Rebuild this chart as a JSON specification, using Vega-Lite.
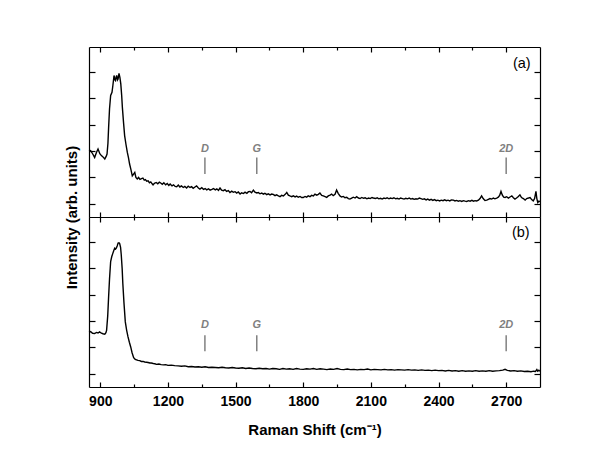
{
"$schema": "https://vega.github.io/schema/vega-lite/v6.json",
"padding": {"left": 64, "top": 46, "right": 5, "bottom": 5},
"config": {"view": {"stroke": null}, "font": "Liberation Sans", "axis": {"grid": false, "domainColor": "black", "domainWidth": 1.2, "tickColor": "black", "tickWidth": 1.2}},
"spacing": 0,
"bounds": "flush",
"datasets": {
"a": [
{"x":850,"y":3.0},{"x":857,"y":3.02},{"x":866,"y":2.9},{"x":875,"y":2.76},{"x":883,"y":2.95},{"x":890,"y":3.08},{"x":898,"y":2.9},{"x":905,"y":2.83},{"x":912,"y":2.78},{"x":920,"y":2.7},{"x":926,"y":2.8},{"x":930,"y":2.89},{"x":934,"y":3.3},{"x":937,"y":3.9},{"x":941,"y":4.6},{"x":946,"y":5.11},{"x":952,"y":5.23},{"x":956,"y":5.5},{"x":961,"y":5.87},{"x":964,"y":5.72},{"x":967,"y":5.68},{"x":970,"y":5.8},{"x":973,"y":5.87},{"x":976,"y":5.7},{"x":979,"y":5.74},{"x":983,"y":5.95},{"x":987,"y":5.8},{"x":991,"y":5.55},{"x":995,"y":5.1},{"x":998,"y":4.66},{"x":1003,"y":4.1},{"x":1008,"y":3.59},{"x":1014,"y":3.25},{"x":1020,"y":2.95},{"x":1025,"y":2.75},{"x":1030,"y":2.51},{"x":1036,"y":2.3},{"x":1042,"y":2.06},{"x":1047,"y":2.12},{"x":1053,"y":2.19},{"x":1058,"y":2.0},{"x":1064,"y":1.94},{"x":1070,"y":2.0},{"x":1076,"y":1.93},{"x":1083,"y":1.96},{"x":1089,"y":1.98},{"x":1095,"y":1.9},{"x":1100,"y":1.92},{"x":1106,"y":1.86},{"x":1112,"y":1.87},{"x":1118,"y":1.8},{"x":1124,"y":1.83},{"x":1130,"y":1.76},{"x":1134,"y":1.72},{"x":1140,"y":1.78},{"x":1148,"y":1.81},{"x":1155,"y":1.76},{"x":1162,"y":1.82},{"x":1168,"y":1.79},{"x":1175,"y":1.74},{"x":1182,"y":1.8},{"x":1190,"y":1.72},{"x":1197,"y":1.77},{"x":1204,"y":1.7},{"x":1210,"y":1.75},{"x":1218,"y":1.68},{"x":1225,"y":1.72},{"x":1232,"y":1.66},{"x":1239,"y":1.65},{"x":1246,"y":1.71},{"x":1253,"y":1.64},{"x":1260,"y":1.68},{"x":1268,"y":1.62},{"x":1275,"y":1.66},{"x":1283,"y":1.6},{"x":1290,"y":1.67},{"x":1298,"y":1.62},{"x":1305,"y":1.65},{"x":1312,"y":1.59},{"x":1320,"y":1.64},{"x":1327,"y":1.68},{"x":1335,"y":1.6},{"x":1342,"y":1.56},{"x":1350,"y":1.61},{"x":1358,"y":1.55},{"x":1365,"y":1.58},{"x":1372,"y":1.53},{"x":1380,"y":1.57},{"x":1387,"y":1.52},{"x":1395,"y":1.55},{"x":1402,"y":1.58},{"x":1410,"y":1.53},{"x":1417,"y":1.57},{"x":1424,"y":1.51},{"x":1431,"y":1.6},{"x":1438,"y":1.52},{"x":1446,"y":1.5},{"x":1453,"y":1.54},{"x":1460,"y":1.47},{"x":1468,"y":1.5},{"x":1475,"y":1.43},{"x":1483,"y":1.48},{"x":1490,"y":1.44},{"x":1498,"y":1.46},{"x":1505,"y":1.41},{"x":1512,"y":1.45},{"x":1520,"y":1.37},{"x":1527,"y":1.42},{"x":1535,"y":1.39},{"x":1542,"y":1.44},{"x":1550,"y":1.4},{"x":1557,"y":1.46},{"x":1564,"y":1.47},{"x":1571,"y":1.42},{"x":1579,"y":1.52},{"x":1586,"y":1.44},{"x":1594,"y":1.41},{"x":1601,"y":1.43},{"x":1608,"y":1.38},{"x":1616,"y":1.41},{"x":1623,"y":1.37},{"x":1630,"y":1.4},{"x":1638,"y":1.35},{"x":1645,"y":1.38},{"x":1653,"y":1.34},{"x":1660,"y":1.37},{"x":1667,"y":1.36},{"x":1675,"y":1.31},{"x":1682,"y":1.34},{"x":1690,"y":1.3},{"x":1697,"y":1.27},{"x":1704,"y":1.32},{"x":1712,"y":1.3},{"x":1720,"y":1.36},{"x":1727,"y":1.43},{"x":1734,"y":1.33},{"x":1741,"y":1.3},{"x":1749,"y":1.27},{"x":1756,"y":1.3},{"x":1764,"y":1.26},{"x":1771,"y":1.29},{"x":1778,"y":1.25},{"x":1786,"y":1.28},{"x":1793,"y":1.24},{"x":1800,"y":1.24},{"x":1808,"y":1.28},{"x":1815,"y":1.25},{"x":1822,"y":1.3},{"x":1830,"y":1.27},{"x":1837,"y":1.32},{"x":1845,"y":1.3},{"x":1852,"y":1.37},{"x":1860,"y":1.33},{"x":1867,"y":1.36},{"x":1874,"y":1.41},{"x":1882,"y":1.32},{"x":1889,"y":1.3},{"x":1897,"y":1.27},{"x":1904,"y":1.24},{"x":1911,"y":1.3},{"x":1919,"y":1.33},{"x":1926,"y":1.37},{"x":1933,"y":1.31},{"x":1941,"y":1.36},{"x":1948,"y":1.52},{"x":1955,"y":1.4},{"x":1963,"y":1.3},{"x":1970,"y":1.26},{"x":1978,"y":1.28},{"x":1985,"y":1.23},{"x":1993,"y":1.25},{"x":2000,"y":1.2},{"x":2007,"y":1.18},{"x":2015,"y":1.22},{"x":2022,"y":1.25},{"x":2030,"y":1.22},{"x":2037,"y":1.27},{"x":2045,"y":1.22},{"x":2052,"y":1.2},{"x":2060,"y":1.24},{"x":2067,"y":1.21},{"x":2075,"y":1.23},{"x":2082,"y":1.19},{"x":2090,"y":1.22},{"x":2097,"y":1.2},{"x":2105,"y":1.24},{"x":2111,"y":1.22},{"x":2120,"y":1.2},{"x":2128,"y":1.23},{"x":2135,"y":1.19},{"x":2143,"y":1.21},{"x":2150,"y":1.18},{"x":2158,"y":1.22},{"x":2165,"y":1.2},{"x":2172,"y":1.23},{"x":2180,"y":1.19},{"x":2187,"y":1.22},{"x":2195,"y":1.2},{"x":2202,"y":1.23},{"x":2210,"y":1.19},{"x":2217,"y":1.21},{"x":2225,"y":1.18},{"x":2232,"y":1.22},{"x":2240,"y":1.2},{"x":2247,"y":1.18},{"x":2255,"y":1.21},{"x":2262,"y":1.19},{"x":2270,"y":1.22},{"x":2277,"y":1.18},{"x":2285,"y":1.2},{"x":2292,"y":1.17},{"x":2300,"y":1.19},{"x":2307,"y":1.18},{"x":2315,"y":1.22},{"x":2322,"y":1.2},{"x":2330,"y":1.17},{"x":2337,"y":1.19},{"x":2345,"y":1.15},{"x":2352,"y":1.18},{"x":2360,"y":1.14},{"x":2367,"y":1.17},{"x":2375,"y":1.13},{"x":2382,"y":1.16},{"x":2390,"y":1.12},{"x":2397,"y":1.14},{"x":2405,"y":1.11},{"x":2412,"y":1.14},{"x":2420,"y":1.12},{"x":2427,"y":1.15},{"x":2435,"y":1.12},{"x":2442,"y":1.14},{"x":2450,"y":1.11},{"x":2457,"y":1.15},{"x":2466,"y":1.14},{"x":2473,"y":1.11},{"x":2480,"y":1.13},{"x":2488,"y":1.1},{"x":2495,"y":1.12},{"x":2503,"y":1.09},{"x":2510,"y":1.12},{"x":2518,"y":1.1},{"x":2525,"y":1.09},{"x":2533,"y":1.12},{"x":2540,"y":1.1},{"x":2548,"y":1.13},{"x":2555,"y":1.1},{"x":2562,"y":1.12},{"x":2569,"y":1.11},{"x":2577,"y":1.14},{"x":2584,"y":1.2},{"x":2591,"y":1.3},{"x":2598,"y":1.2},{"x":2606,"y":1.13},{"x":2614,"y":1.14},{"x":2621,"y":1.17},{"x":2628,"y":1.2},{"x":2636,"y":1.18},{"x":2643,"y":1.22},{"x":2650,"y":1.19},{"x":2658,"y":1.22},{"x":2665,"y":1.25},{"x":2671,"y":1.32},{"x":2677,"y":1.47},{"x":2683,"y":1.33},{"x":2689,"y":1.25},{"x":2695,"y":1.24},{"x":2702,"y":1.27},{"x":2710,"y":1.22},{"x":2717,"y":1.26},{"x":2725,"y":1.3},{"x":2732,"y":1.23},{"x":2739,"y":1.18},{"x":2746,"y":1.22},{"x":2754,"y":1.28},{"x":2761,"y":1.34},{"x":2768,"y":1.24},{"x":2776,"y":1.2},{"x":2784,"y":1.14},{"x":2791,"y":1.2},{"x":2799,"y":1.22},{"x":2806,"y":1.24},{"x":2813,"y":1.16},{"x":2820,"y":1.11},{"x":2826,"y":1.2},{"x":2832,"y":1.47},{"x":2836,"y":1.2},{"x":2840,"y":1.05},{"x":2845,"y":1.1},{"x":2850,"y":1.08}
],
"b": [
{"x":850,"y":2.58},{"x":857,"y":2.6},{"x":866,"y":2.54},{"x":875,"y":2.53},{"x":883,"y":2.57},{"x":890,"y":2.55},{"x":897,"y":2.59},{"x":905,"y":2.54},{"x":912,"y":2.52},{"x":920,"y":2.5},{"x":925,"y":2.56},{"x":928,"y":2.65},{"x":933,"y":3.2},{"x":937,"y":3.93},{"x":941,"y":4.6},{"x":946,"y":5.26},{"x":951,"y":5.45},{"x":956,"y":5.58},{"x":960,"y":5.68},{"x":964,"y":5.77},{"x":968,"y":5.74},{"x":971,"y":5.77},{"x":975,"y":5.85},{"x":979,"y":5.96},{"x":983,"y":5.97},{"x":986,"y":5.94},{"x":990,"y":5.8},{"x":993,"y":5.52},{"x":997,"y":5.0},{"x":1000,"y":4.43},{"x":1005,"y":3.7},{"x":1011,"y":2.97},{"x":1017,"y":2.65},{"x":1023,"y":2.4},{"x":1029,"y":2.2},{"x":1035,"y":2.02},{"x":1041,"y":1.8},{"x":1048,"y":1.61},{"x":1055,"y":1.55},{"x":1061,"y":1.53},{"x":1067,"y":1.51},{"x":1075,"y":1.5},{"x":1082,"y":1.47},{"x":1090,"y":1.47},{"x":1097,"y":1.45},{"x":1105,"y":1.44},{"x":1112,"y":1.43},{"x":1120,"y":1.41},{"x":1126,"y":1.41},{"x":1135,"y":1.39},{"x":1142,"y":1.38},{"x":1149,"y":1.36},{"x":1160,"y":1.37},{"x":1170,"y":1.35},{"x":1180,"y":1.34},{"x":1190,"y":1.35},{"x":1200,"y":1.32},{"x":1215,"y":1.33},{"x":1230,"y":1.31},{"x":1245,"y":1.3},{"x":1260,"y":1.29},{"x":1275,"y":1.3},{"x":1290,"y":1.27},{"x":1305,"y":1.28},{"x":1320,"y":1.26},{"x":1335,"y":1.27},{"x":1350,"y":1.25},{"x":1365,"y":1.27},{"x":1380,"y":1.24},{"x":1395,"y":1.25},{"x":1410,"y":1.24},{"x":1425,"y":1.23},{"x":1440,"y":1.25},{"x":1455,"y":1.23},{"x":1470,"y":1.22},{"x":1485,"y":1.24},{"x":1500,"y":1.22},{"x":1515,"y":1.21},{"x":1530,"y":1.23},{"x":1545,"y":1.2},{"x":1560,"y":1.22},{"x":1575,"y":1.2},{"x":1590,"y":1.19},{"x":1605,"y":1.21},{"x":1620,"y":1.19},{"x":1635,"y":1.2},{"x":1650,"y":1.18},{"x":1665,"y":1.2},{"x":1680,"y":1.19},{"x":1695,"y":1.17},{"x":1710,"y":1.2},{"x":1725,"y":1.18},{"x":1740,"y":1.19},{"x":1755,"y":1.17},{"x":1770,"y":1.2},{"x":1785,"y":1.18},{"x":1800,"y":1.17},{"x":1815,"y":1.19},{"x":1830,"y":1.18},{"x":1845,"y":1.2},{"x":1860,"y":1.17},{"x":1875,"y":1.19},{"x":1890,"y":1.18},{"x":1905,"y":1.16},{"x":1920,"y":1.18},{"x":1935,"y":1.17},{"x":1950,"y":1.2},{"x":1965,"y":1.17},{"x":1980,"y":1.16},{"x":1995,"y":1.18},{"x":2010,"y":1.16},{"x":2025,"y":1.17},{"x":2040,"y":1.15},{"x":2055,"y":1.17},{"x":2070,"y":1.16},{"x":2085,"y":1.18},{"x":2100,"y":1.15},{"x":2115,"y":1.17},{"x":2130,"y":1.16},{"x":2145,"y":1.15},{"x":2160,"y":1.17},{"x":2175,"y":1.15},{"x":2190,"y":1.16},{"x":2205,"y":1.14},{"x":2220,"y":1.16},{"x":2235,"y":1.15},{"x":2250,"y":1.14},{"x":2265,"y":1.16},{"x":2280,"y":1.14},{"x":2295,"y":1.15},{"x":2310,"y":1.13},{"x":2325,"y":1.15},{"x":2340,"y":1.13},{"x":2355,"y":1.14},{"x":2370,"y":1.12},{"x":2385,"y":1.14},{"x":2400,"y":1.12},{"x":2415,"y":1.13},{"x":2430,"y":1.11},{"x":2445,"y":1.13},{"x":2460,"y":1.11},{"x":2475,"y":1.12},{"x":2490,"y":1.1},{"x":2505,"y":1.12},{"x":2520,"y":1.1},{"x":2535,"y":1.11},{"x":2550,"y":1.1},{"x":2565,"y":1.12},{"x":2580,"y":1.1},{"x":2595,"y":1.11},{"x":2610,"y":1.1},{"x":2625,"y":1.12},{"x":2640,"y":1.1},{"x":2655,"y":1.11},{"x":2670,"y":1.12},{"x":2685,"y":1.14},{"x":2695,"y":1.17},{"x":2705,"y":1.13},{"x":2720,"y":1.11},{"x":2735,"y":1.12},{"x":2750,"y":1.1},{"x":2765,"y":1.11},{"x":2780,"y":1.09},{"x":2795,"y":1.1},{"x":2810,"y":1.08},{"x":2822,"y":1.1},{"x":2830,"y":1.09},{"x":2836,"y":1.16},{"x":2840,"y":1.1},{"x":2845,"y":1.14},{"x":2850,"y":1.1}
],
"markA": [{"x":1364,"y":2.13,"y2":2.76,"label":"D","ly":3.09},{"x":1594,"y":2.13,"y2":2.76,"label":"G","ly":3.09},{"x":2700,"y":2.13,"y2":2.76,"label":"2D","ly":3.09}],
"markB": [{"x":1364,"y":1.86,"y2":2.46,"label":"D","ly":2.87},{"x":1594,"y":1.86,"y2":2.46,"label":"G","ly":2.87},{"x":2700,"y":1.86,"y2":2.46,"label":"2D","ly":2.87}],
"panA": [{"x":2769,"y":6.31,"label":"(a)"}],
"panB": [{"x":2765,"y":6.34,"label":"(b)"}]
},
"vconcat": [
{
"width": 451, "height": 170,
"resolve": {"axis": {"x": "independent", "y": "independent"}},
"layer": [
{"data": {"name": "a"}, "mark": {"type": "line", "color": "black", "strokeWidth": 1.4},
 "encoding": {
  "x": {"field": "x", "type": "quantitative", "scale": {"domain": [850, 2850], "nice": false, "zero": false},
        "axis": {"orient": "bottom", "values": [900,1050,1200,1350,1500,1650,1800,1950,2100,2250,2400,2550,2700], "labels": false, "title": null, "tickSize": {"condition": {"test": "datum.value % 300 === 0", "value": -5}, "value": -3}}},
  "y": {"field": "y", "type": "quantitative", "scale": {"domain": [0.5, 6.95], "nice": false, "zero": false},
        "axis": {"orient": "left", "values": [1,2,3,4,5,6], "labels": false, "tickSize": -6, "title": "Intensity (arb. units)", "titleFont": "Liberation Sans", "titleFontSize": 15, "titleFontWeight": "bold", "titleColor": "black", "titleAngle": -90, "titleX": -13, "titleY": 170, "titleAlign": "center", "titleBaseline": "alphabetic"}}
 }},
{"data": {"name": "markA"}, "mark": {"type": "rule", "color": "#808080", "strokeWidth": 1.5},
 "encoding": {
  "x": {"field": "x", "type": "quantitative", "scale": {"domain": [850, 2850], "nice": false, "zero": false},
        "axis": {"orient": "top", "values": [900,1050,1200,1350,1500,1650,1800,1950,2100,2250,2400,2550,2700], "labels": false, "title": null, "tickSize": {"condition": {"test": "datum.value % 300 === 0", "value": -5}, "value": -3}}},
  "y": {"field": "y", "type": "quantitative", "scale": {"domain": [0.5, 6.95], "nice": false, "zero": false},
        "axis": {"orient": "right", "values": [1,2,3,4,5,6], "labels": false, "tickSize": -6, "title": null}},
  "y2": {"field": "y2"}
 }},
{"data": {"name": "markA"}, "mark": {"type": "text", "color": "#808080", "fontSize": 11, "fontWeight": "bold", "fontStyle": "italic", "baseline": "middle", "align": "center"},
 "encoding": {"x": {"field": "x", "type": "quantitative", "axis": null}, "y": {"field": "ly", "type": "quantitative", "axis": null}, "text": {"field": "label"}}},
{"data": {"name": "panA"}, "mark": {"type": "text", "color": "black", "fontSize": 14.5, "baseline": "middle", "align": "center"},
 "encoding": {"x": {"field": "x", "type": "quantitative", "axis": null}, "y": {"field": "y", "type": "quantitative", "axis": null}, "text": {"field": "label"}}}
]
},
{
"width": 451, "height": 170,
"resolve": {"axis": {"x": "independent", "y": "independent"}},
"layer": [
{"data": {"name": "b"}, "mark": {"type": "line", "color": "black", "strokeWidth": 1.4},
 "encoding": {
  "x": {"field": "x", "type": "quantitative", "scale": {"domain": [850, 2850], "nice": false, "zero": false},
        "axis": {"orient": "bottom", "values": [900,1050,1200,1350,1500,1650,1800,1950,2100,2250,2400,2550,2700], "format": "d", "labelExpr": "datum.value % 300 === 0 ? datum.label : ''", "labelFont": "Liberation Sans", "labelFontSize": 14, "labelFontWeight": "bold", "labelColor": "black", "labelBaseline": "alphabetic", "labelPadding": 23, "labelFlush": false, "labelOverlap": false, "tickSize": {"condition": {"test": "datum.value % 300 === 0", "value": -5}, "value": -3},
                 "title": "Raman Shift (cm⁻¹)", "titleFont": "Liberation Sans", "titleFontSize": 15, "titleFontWeight": "bold", "titleColor": "black", "titleY": 47, "titleBaseline": "alphabetic"}},
  "y": {"field": "y", "type": "quantitative", "scale": {"domain": [0.5, 6.95], "nice": false, "zero": false},
        "axis": {"orient": "left", "values": [1,2,3,4,5,6], "labels": false, "tickSize": -6, "title": null}}
 }},
{"data": {"name": "markB"}, "mark": {"type": "rule", "color": "#808080", "strokeWidth": 1.5},
 "encoding": {
  "x": {"field": "x", "type": "quantitative", "scale": {"domain": [850, 2850], "nice": false, "zero": false},
        "axis": {"orient": "top", "values": [900,1050,1200,1350,1500,1650,1800,1950,2100,2250,2400,2550,2700], "labels": false, "title": null, "tickSize": {"condition": {"test": "datum.value % 300 === 0", "value": -5}, "value": -3}}},
  "y": {"field": "y", "type": "quantitative", "scale": {"domain": [0.5, 6.95], "nice": false, "zero": false},
        "axis": {"orient": "right", "values": [1,2,3,4,5,6], "labels": false, "tickSize": -6, "title": null}},
  "y2": {"field": "y2"}
 }},
{"data": {"name": "markB"}, "mark": {"type": "text", "color": "#808080", "fontSize": 11, "fontWeight": "bold", "fontStyle": "italic", "baseline": "middle", "align": "center"},
 "encoding": {"x": {"field": "x", "type": "quantitative", "axis": null}, "y": {"field": "ly", "type": "quantitative", "axis": null}, "text": {"field": "label"}}},
{"data": {"name": "panB"}, "mark": {"type": "text", "color": "black", "fontSize": 14.5, "baseline": "middle", "align": "center"},
 "encoding": {"x": {"field": "x", "type": "quantitative", "axis": null}, "y": {"field": "y", "type": "quantitative", "axis": null}, "text": {"field": "label"}}}
]
}
]
}
